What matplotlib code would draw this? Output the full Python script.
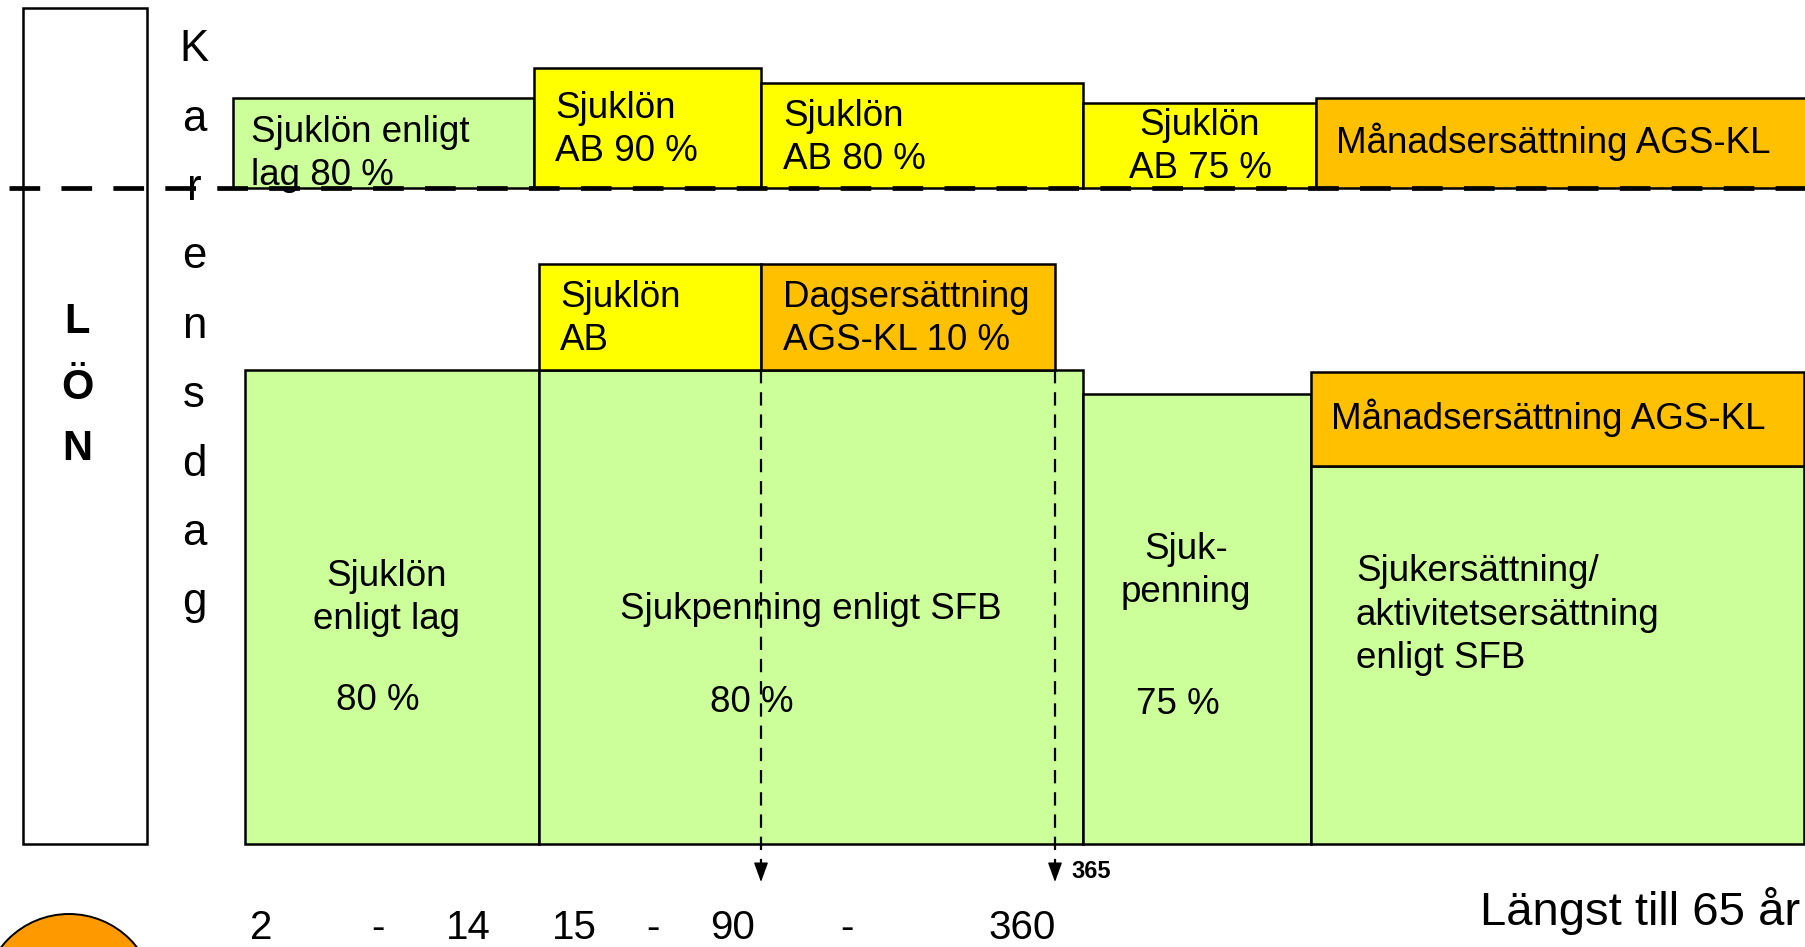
import matplotlib
matplotlib.use("Agg")
import matplotlib.pyplot as plt
from matplotlib.patches import Rectangle, Ellipse

plt.rcParams['font.family'] = ['Liberation Sans', 'DejaVu Sans']

GREEN = '#CCFF99'
YELLOW = '#FFFF00'
ORANGE = '#FFC000'
CIRCLE = '#FF9900'

# ---- diagram data (canvas units: x right, y down) ----
# upper row: employer payments (bottom at the dashed line)
top_left = [233, 534, 761, 1083, 1316]
top_right = [534, 761, 1083, 1316, 1810]
top_top = [98, 68, 83, 103, 98]
top_colors = [GREEN, YELLOW, YELLOW, YELLOW, ORANGE]
top_labels = ["Sjuklön enligt\nlag 80 %", "Sjuklön\nAB 90 %", "Sjuklön\nAB 80 %",
              "Sjuklön\nAB 75 %", "Månadsersättning AGS-KL"]
top_label_x = [251, 555, 783, 1200, 1336]
top_label_y = [154, 130, 138, 147, 142]
top_label_ha = ['left', 'left', 'left', 'center', 'left']
dash_y = 188

# lower row: supplements
sup_left = [539, 761, 1311]
sup_right = [761, 1055, 1804]
sup_top = [264, 264, 372]
sup_bottom = [370, 370, 466]
sup_colors = [YELLOW, ORANGE, ORANGE]
sup_labels = ["Sjuklön\nAB", "Dagsersättning\nAGS-KL 10 %", "Månadsersättning AGS-KL"]
sup_label_x = [560, 783, 1331]
sup_label_y = [319, 319, 418]

# lower row: base benefits
base_left = [245, 539, 1083, 1311]
base_right = [539, 1083, 1311, 1804]
base_top = [370, 370, 394, 466]
base_bottom = 844
base_labels = ["Sjuklön\nenligt lag", "Sjukpenning enligt SFB", "Sjuk-\npenning",
               "Sjukersättning/\naktivitetsersättning\nenligt SFB"]
base_label_x = [387, 811, 1186, 1356]
base_label_y = [598, 609, 571, 615]
base_label_ha = ['center', 'center', 'center', 'left']
pct_labels = ["80 %", "80 %", "75 %"]
pct_x = [378, 752, 1178]
pct_y = [700, 702, 704]

# day markers
arrow_x = [761, 1055]
arrow_top = 370
arrow_bottom = 882
day_labels = ["2", "-", "14", "15", "-", "90", "-", "360"]
day_x = [261, 378, 468, 574, 653, 733, 847, 1022]
day_y = 928

karens = list("Karensdag")
karens_y = [49, 119, 188, 256, 326, 395, 464, 533, 602]
lon = ["L", "Ö", "N"]
lon_y = [322, 388, 449]

# ---- drawing ----
fig = plt.figure(figsize=(18.06, 9.47), dpi=100)
ax = fig.add_axes([0, 0, 1, 1])
ax.set_xlim(0, 1806)
ax.set_ylim(947, 0)
ax.axis('off')

FS = 26.5
LW = 1.8
LS = 1.32

# LÖN box
ax.add_patch(Rectangle((23, 8), 124, 836, fc='white', ec='black', lw=LW, zorder=1))
for ch, y in zip(lon, lon_y):
    ax.text(77, y, ch, ha='center', va='center', fontsize=30, fontweight='bold', zorder=3)

for ch, y in zip(karens, karens_y):
    ax.text(194, y, ch, ha='center', va='center', fontsize=31.5, zorder=3)

for x0, x1, yt, c, lab, lx, ly, ha in zip(top_left, top_right, top_top, top_colors,
                                           top_labels, top_label_x, top_label_y, top_label_ha):
    ax.add_patch(Rectangle((x0, yt), x1 - x0, dash_y - yt, fc=c, ec='black', lw=LW, zorder=2))
    ax.text(lx, ly, lab, ha=ha, va='center', fontsize=FS, linespacing=LS, zorder=3,
            multialignment='center' if ha == 'center' else 'left')

for x0, x1, yt, c in zip(base_left, base_right, base_top, [GREEN] * 4):
    ax.add_patch(Rectangle((x0, yt), x1 - x0, base_bottom - yt, fc=c, ec='black', lw=LW, zorder=2))
for x0, x1, yt, yb, c, lab, lx, ly in zip(sup_left, sup_right, sup_top, sup_bottom, sup_colors,
                                          sup_labels, sup_label_x, sup_label_y):
    ax.add_patch(Rectangle((x0, yt), x1 - x0, yb - yt, fc=c, ec='black', lw=LW, zorder=2))
    ax.text(lx, ly, lab, ha='left', va='center', fontsize=FS, linespacing=LS, zorder=3)

for lab, lx, ly, ha in zip(base_labels, base_label_x, base_label_y, base_label_ha):
    ax.text(lx, ly, lab, ha=ha, va='center', fontsize=FS, linespacing=LS, zorder=3,
            multialignment='center' if ha == 'center' else 'left')
for lab, lx, ly in zip(pct_labels, pct_x, pct_y):
    ax.text(lx, ly, lab, ha='center', va='center', fontsize=FS, zorder=3)

# dashed horizontal line
ax.plot([9, 1806], [dash_y, dash_y], color='black', lw=3.4, dashes=(6.5, 4.5), zorder=4,
        dash_capstyle='butt')

# vertical dashed arrows
for x in arrow_x:
    ax.plot([x, x], [arrow_top, arrow_bottom - 10], color='black', lw=1.6, dashes=(6, 4), zorder=4)
    ax.annotate('', xy=(x, arrow_bottom), xytext=(x, arrow_bottom - 16),
                arrowprops=dict(arrowstyle='-|>,head_length=1.1,head_width=0.4', color='black',
                                lw=1.0, mutation_scale=11, shrinkA=0, shrinkB=0), zorder=4)
ax.text(1071, 871, "365", ha='left', va='center', fontsize=17, fontweight='bold')

for lab, x in zip(day_labels, day_x):
    ax.text(x, day_y, lab, ha='center', va='center', fontsize=29)

ax.text(1480, 911, "Längst till 65 år", ha='left', va='center', fontsize=34)

ax.add_patch(Ellipse((69, 1000), 172, 172, fc=CIRCLE, ec='black', lw=1.4, zorder=2))

fig.savefig('out.png', dpi=100)
